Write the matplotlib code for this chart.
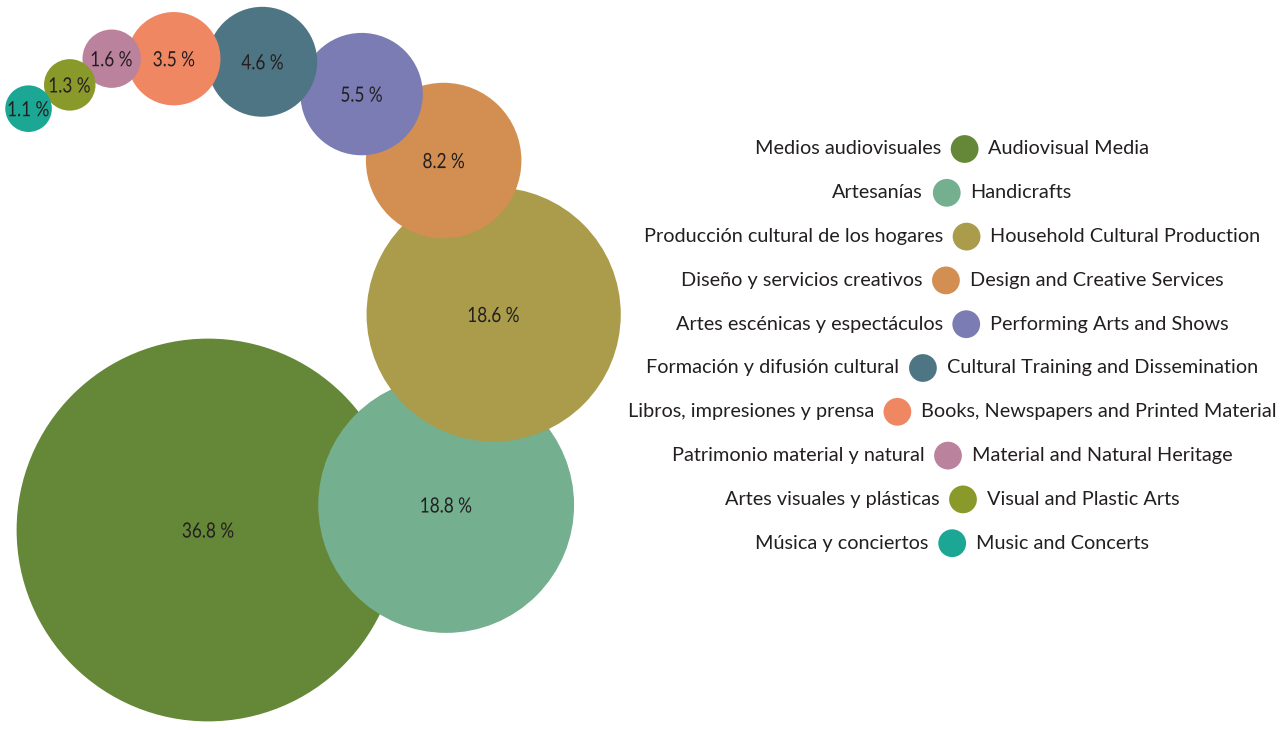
import numpy as np
import matplotlib
matplotlib.use('Agg')
import matplotlib.pyplot as plt
from matplotlib.patches import Circle, PathPatch
from matplotlib.textpath import TextPath
from matplotlib.font_manager import FontProperties
from matplotlib.transforms import Affine2D
from matplotlib.offsetbox import TextArea, DrawingArea, HPacker, AnnotationBbox

plt.rcParams['font.family'] = ['Lato', 'DejaVu Sans']

# data, largest first (same order as the legend)
labels_es = ['Medios audiovisuales', 'Artesanías', 'Producción cultural de los hogares',
             'Diseño y servicios creativos', 'Artes escénicas y espectáculos',
             'Formación y difusión cultural', 'Libros, impresiones y prensa',
             'Patrimonio material y natural', 'Artes visuales y plásticas',
             'Música y conciertos']
labels_en = ['Audiovisual Media', 'Handicrafts', 'Household Cultural Production',
             'Design and Creative Services', 'Performing Arts and Shows',
             'Cultural Training and Dissemination', 'Books, Newspapers and Printed Material',
             'Material and Natural Heritage', 'Visual and Plastic Arts', 'Music and Concerts']
shares = [36.8, 18.8, 18.6, 8.2, 5.5, 4.6, 3.5, 1.6, 1.3, 1.1]

colors = ['#658838', '#74AF8F', '#AA9C4A', '#D38F51', '#7A7CB3',
          '#4E7584', '#F08763', '#BA829C', '#8A9A2A', '#1BA793']
text_col = '#231F20'

# bubble radius scale (pixels)
def radius(v):
    return 22.0 * v ** 0.6

# spiral chain layout: direction (deg, counterclockwise) and overlap ratio
start = (208, 530)
turn = [6, 76, 108, 141, 162, 178, 180, 212, 210]
ratio = [0.75, 0.77, 0.79, 0.76, 0.90, 0.87, 0.82, 0.90, 0.97]

rads = [radius(v) for v in shares]
centers = [start]
for i in range(1, len(shares)):
    d = (rads[i-1] + rads[i]) * ratio[i-1]
    a = np.radians(turn[i-1])
    px, py = centers[-1]
    centers.append((px + d*np.cos(a), py - d*np.sin(a)))

fig = plt.figure(figsize=(12.85, 7.30), dpi=100)
ax = fig.add_axes([0, 0, 1, 1])
ax.set_xlim(0, 1285)
ax.set_ylim(730, 0)
ax.axis('off')

fp = FontProperties(family='Lato')

def narrow_label(s, cx, cy, size=21, squeeze=0.82):
    # condensed text drawn as a path, centred on (cx, cy)
    tp = TextPath((0, 0), s, size=size, prop=fp)
    bb = tp.get_extents()
    tr = (Affine2D().translate(-(bb.x0 + bb.x1)/2, -(0.72*size)/2)
          .scale(squeeze, -1).translate(cx, cy))
    ax.add_patch(PathPatch(tr.transform_path(tp), color=text_col, lw=0, zorder=20))

for i, v in enumerate(shares):
    cx, cy = centers[i]
    ax.add_patch(Circle((cx, cy), rads[i], color=colors[i], lw=0, zorder=i+1))
    narrow_label(f'{v:.1f} %', cx, cy)

# legend rows centred on one column
row_y0 = 149
row_step = 43.8
for i in range(len(shares)):
    es = TextArea(labels_es[i], textprops=dict(fontsize=14.3, color=text_col))
    en = TextArea(labels_en[i], textprops=dict(fontsize=14.3, color=text_col))
    da = DrawingArea(20, 20, 0, 0)
    da.add_artist(Circle((10, 10), 10, color=colors[i], lw=0))
    box = HPacker(children=[es, da, en], align='center', pad=0, sep=7)
    ab = AnnotationBbox(box, (952, row_y0 + i*row_step), xycoords='data',
                        box_alignment=(0.5, 0.5), frameon=False, pad=0)
    ax.add_artist(ab)

fig.savefig('out.png', dpi=100)
